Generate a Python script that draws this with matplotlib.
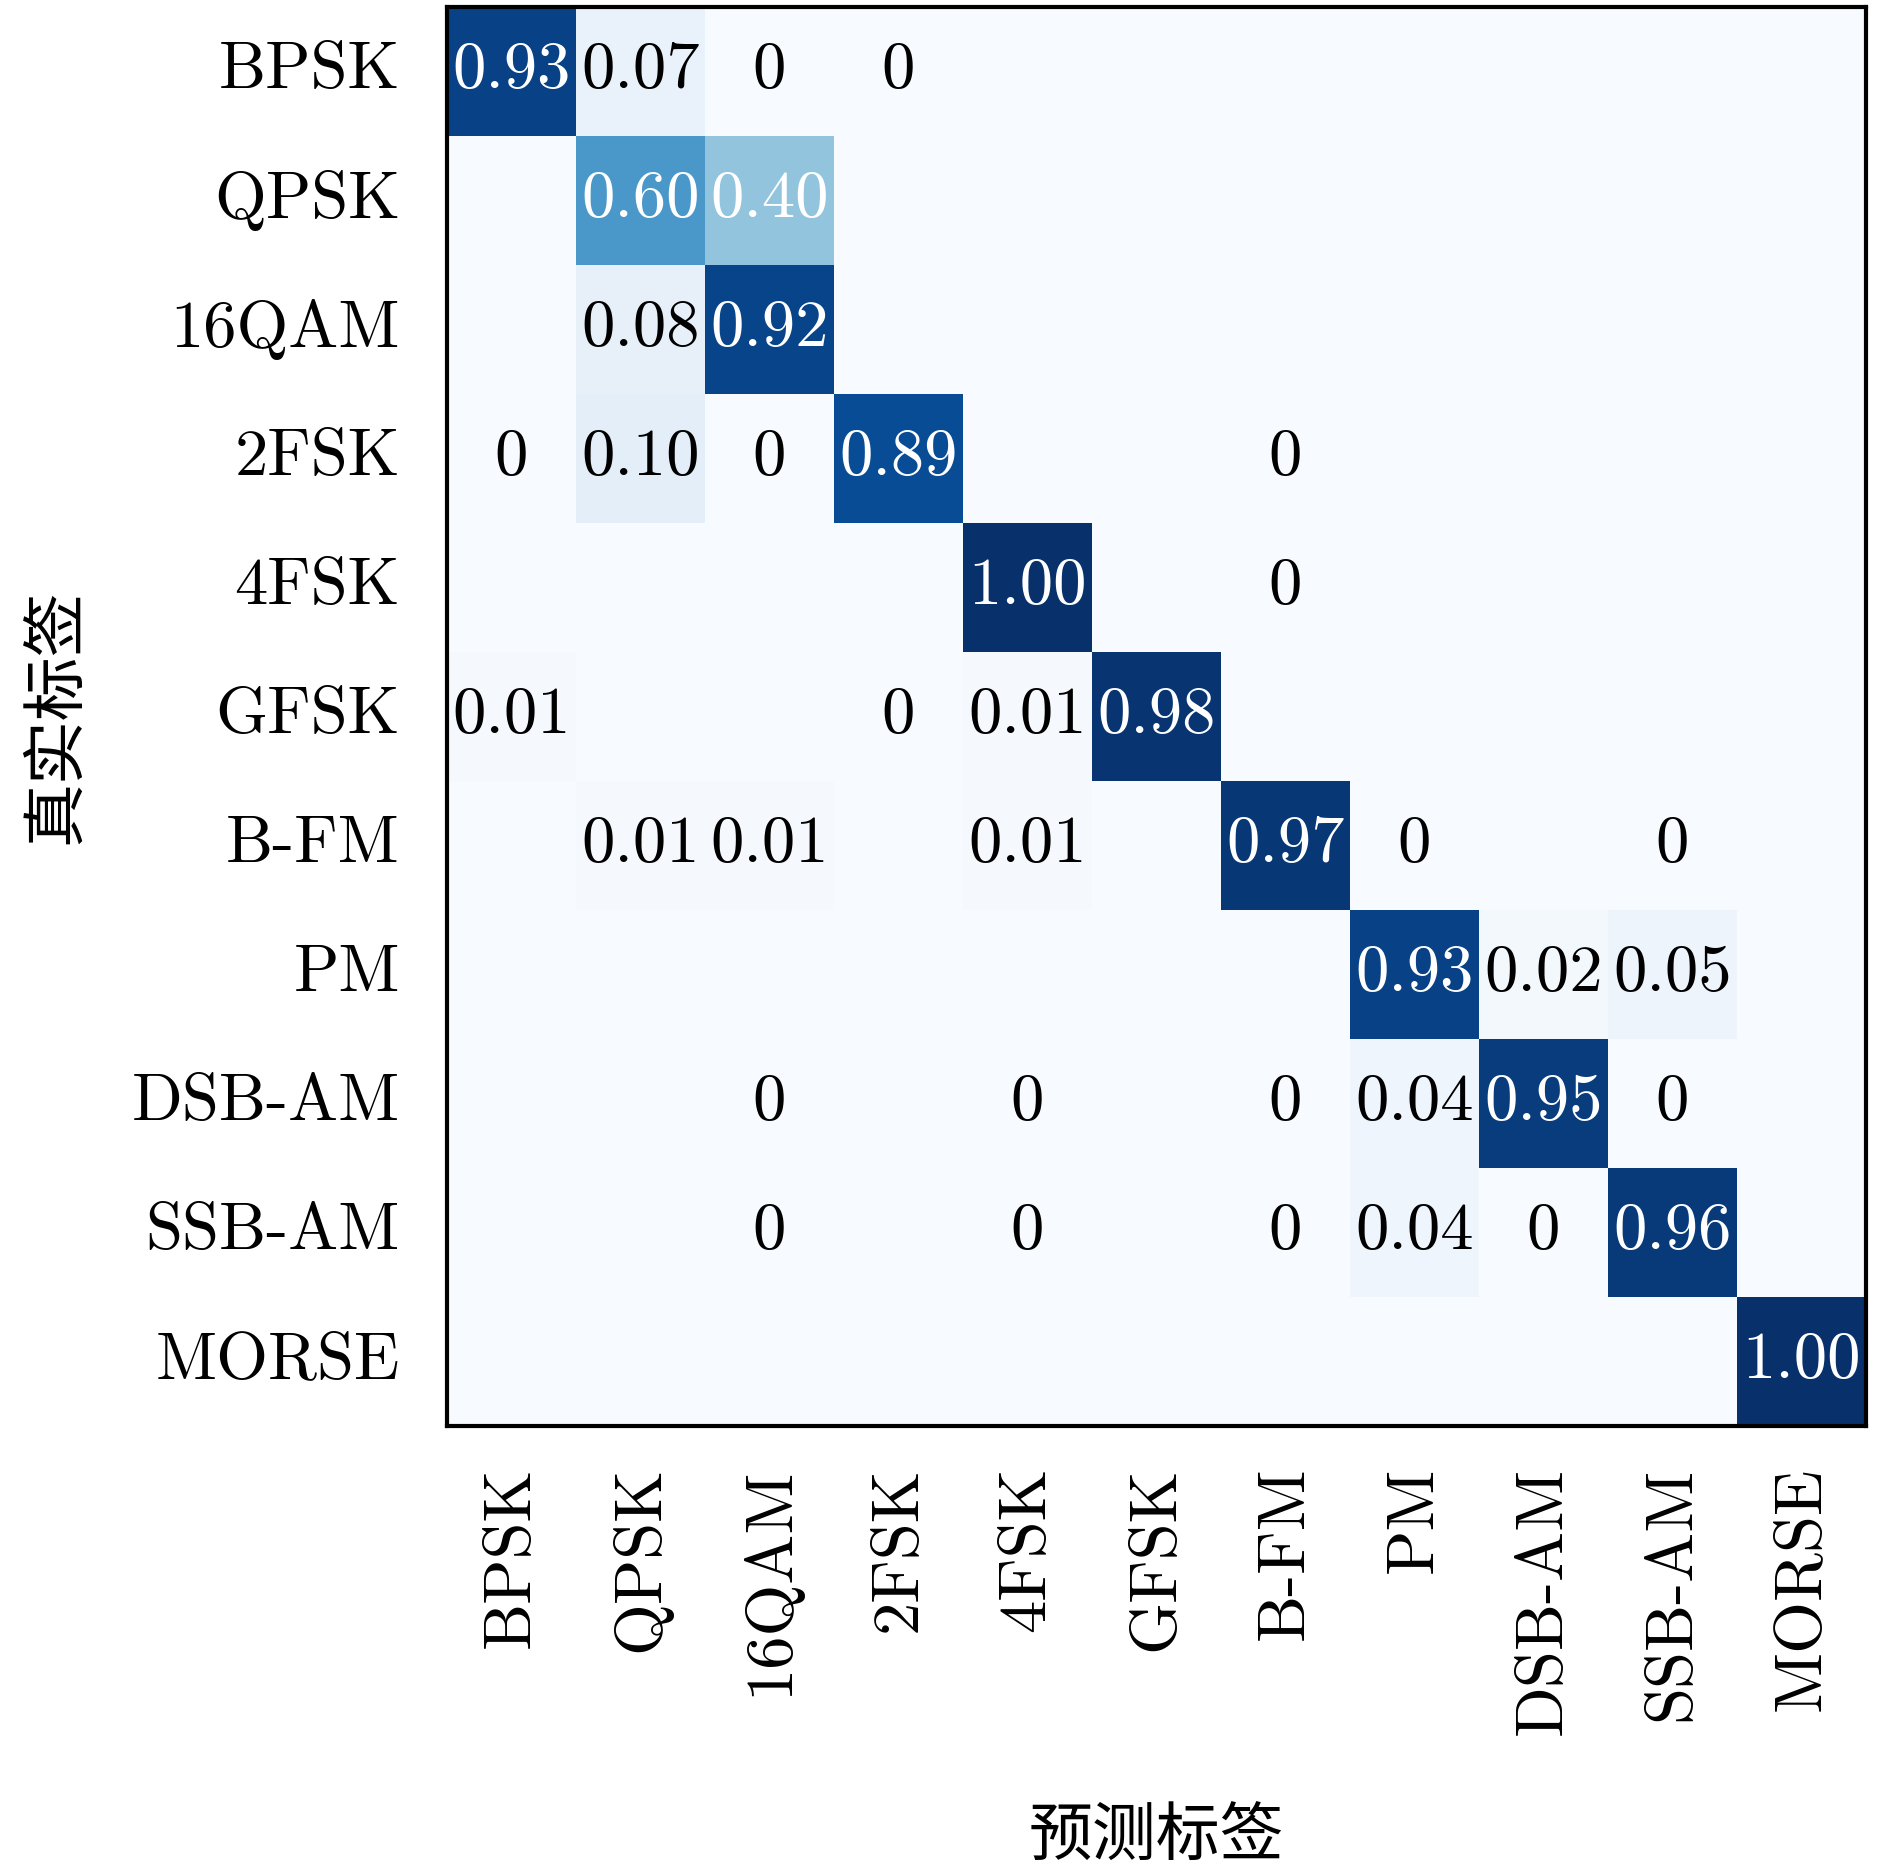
import numpy as np
import matplotlib
matplotlib.use('Agg')
import matplotlib.pyplot as plt

plt.rcParams['font.family'] = ['cmr10', 'Noto Sans CJK SC']
plt.rcParams['axes.unicode_minus'] = False

# 类别
labels = ['BPSK', 'QPSK', '16QAM', '2FSK', '4FSK', 'GFSK', 'B-FM', 'PM', 'DSB-AM', 'SSB-AM', 'MORSE']

# 归一化混淆矩阵 (行: 真实, 列: 预测), 0.003 表示显示为 "0" 的极小值
row_bpsk = [0.93, 0.07, 0.003, 0.003, 0, 0, 0, 0, 0, 0, 0]
row_qpsk = [0, 0.60, 0.40, 0, 0, 0, 0, 0, 0, 0, 0]
row_16qam = [0, 0.08, 0.92, 0, 0, 0, 0, 0, 0, 0, 0]
row_2fsk = [0.003, 0.10, 0.003, 0.89, 0, 0, 0.003, 0, 0, 0, 0]
row_4fsk = [0, 0, 0, 0, 1.00, 0, 0.003, 0, 0, 0, 0]
row_gfsk = [0.01, 0, 0, 0.003, 0.01, 0.98, 0, 0, 0, 0, 0]
row_bfm = [0, 0.01, 0.01, 0, 0.01, 0, 0.97, 0.003, 0, 0.003, 0]
row_pm = [0, 0, 0, 0, 0, 0, 0, 0.93, 0.02, 0.05, 0]
row_dsb = [0, 0, 0.003, 0, 0.003, 0, 0.003, 0.04, 0.95, 0.003, 0]
row_ssb = [0, 0, 0.003, 0, 0.003, 0, 0.003, 0.04, 0.003, 0.96, 0]
row_morse = [0, 0, 0, 0, 0, 0, 0, 0, 0, 0, 1.00]

cm = np.array([row_bpsk, row_qpsk, row_16qam, row_2fsk, row_4fsk, row_gfsk,
               row_bfm, row_pm, row_dsb, row_ssb, row_morse])

fig = plt.figure(figsize=(9.45, 9.335), dpi=200)
ax = fig.add_axes([0.2365, 0.2362, 0.7508, 0.7600])
ax.imshow(cm, cmap='Blues', vmin=0, vmax=1, aspect='auto', interpolation='nearest')

n = len(labels)
for i in range(n):
    for j in range(n):
        v = cm[i, j]
        if v == 0:
            continue
        txt = '0' if round(v, 2) == 0 else '%.2f' % v
        color = 'white' if v > 0.3 else 'black'
        ax.text(j, i, txt, ha='center', va='center', color=color, fontsize=24)

ax.set_xticks(np.arange(n))
ax.set_yticks(np.arange(n))
ax.set_xticklabels(labels, rotation=90, fontsize=24)
ax.set_yticklabels(labels, fontsize=24, va='center')
ax.tick_params(length=0)
ax.tick_params(axis='x', pad=14.5)
ax.tick_params(axis='y', pad=17)
for s in ax.spines.values():
    s.set_linewidth(1.5)

ax.set_xlabel('预测标签', fontsize=23, labelpad=27)
ax.set_ylabel('真实标签', fontsize=23, labelpad=16)

fig.savefig('out.png', dpi=200)
